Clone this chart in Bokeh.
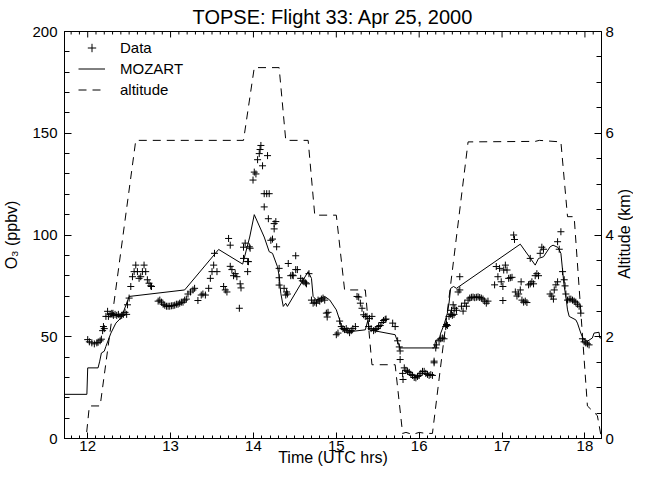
import numpy as np
from bokeh.plotting import figure
from bokeh.layouts import row
from bokeh.models import Range1d, LinearAxis, Legend, LegendItem, FixedTicker, Div
from bokeh.embed import file_html
from bokeh.resources import INLINE

# ---- data ----
data_t = [12.00, 12.02, 12.05, 12.08, 12.11, 12.125, 12.15, 12.165, 12.18, 12.19, 12.20,
          12.22, 12.24, 12.25, 12.27, 12.29, 12.31, 12.33, 12.35, 12.37, 12.39, 12.41, 12.43,
          12.45, 12.47, 12.48, 12.50, 12.52, 12.54, 12.56, 12.58, 12.60, 12.62, 12.64, 12.66,
          12.68, 12.70, 12.72, 12.74, 12.76, 12.77, 12.85, 12.87, 12.89, 12.91, 12.93, 12.95,
          12.97, 12.99, 13.01, 13.03, 13.05, 13.07, 13.09, 13.11, 13.13, 13.15, 13.17, 13.19,
          13.21, 13.24, 13.27, 13.29, 13.33, 13.37, 13.39, 13.42, 13.46, 13.48, 13.50, 13.52,
          13.53, 13.56, 13.64, 13.66, 13.68, 13.70, 13.72, 13.72, 13.74, 13.76, 13.78, 13.80,
          13.83, 13.84, 13.85, 13.88, 13.88, 13.90, 13.93, 13.93, 13.95, 13.96, 13.94, 13.995,
          14.01, 14.03, 14.05, 14.07, 14.09, 14.08, 14.11, 14.17, 14.13, 14.16, 14.19, 14.13,
          14.18, 14.21, 14.23, 14.25, 14.25, 14.27, 14.28, 14.31, 14.31, 14.31, 14.37, 14.39,
          14.40, 14.41, 14.42, 14.45, 14.47, 14.48, 14.51, 14.53, 14.51, 14.57, 14.59, 14.61,
          14.63, 14.64, 14.67, 14.70, 14.72, 14.74, 14.76, 14.78, 14.80, 14.82, 14.84, 14.86,
          14.88, 14.90, 14.89, 15.00, 15.02, 15.04, 15.06, 15.08, 15.10, 15.12, 15.14, 15.16,
          15.18, 15.20, 15.23, 15.25, 15.27, 15.29, 15.31, 15.33, 15.35, 15.37, 15.40, 15.43,
          15.39, 15.42, 15.45, 15.47, 15.49, 15.51, 15.53, 15.55, 15.57, 15.59, 15.60, 15.68,
          15.71, 15.74, 15.76, 15.77, 15.77, 15.80, 15.805, 15.82, 15.84, 15.86, 15.88, 15.90,
          15.92, 15.94, 15.96, 15.98, 16.00, 16.02, 16.04, 16.06, 16.08, 16.10, 16.12, 16.14,
          16.16, 16.18, 16.18, 16.20, 16.21, 16.24, 16.26, 16.28, 16.30, 16.32, 16.33, 16.34,
          16.36, 16.38, 16.40, 16.42, 16.39, 16.41, 16.43, 16.45, 16.47, 16.49, 16.49, 16.51,
          16.53, 16.55, 16.57, 16.59, 16.61, 16.63, 16.65, 16.67, 16.69, 16.71, 16.73, 16.75,
          16.77, 16.79, 16.81, 16.83, 16.91, 16.93, 16.95, 16.97, 16.99, 17.01, 17.01, 17.02,
          17.04, 17.06, 17.08, 17.10, 17.12, 17.14, 17.15, 17.16, 17.18, 17.20, 17.22, 17.23,
          17.24, 17.26, 17.28, 17.30, 17.32, 17.34, 17.36, 17.38, 17.34, 17.40, 17.42, 17.44,
          17.46, 17.48, 17.50, 17.58, 17.60, 17.62, 17.63, 17.65, 17.67, 17.67, 17.69, 17.71,
          17.73, 17.75, 17.76, 17.77, 17.79, 17.81, 17.83, 17.85, 17.87, 17.89, 17.91, 17.93,
          17.95, 17.97, 17.99, 18.01, 18.03, 18.05]
data_o3 = [48.6, 47.5, 47.0, 46.5, 47.0, 47.3, 48.0, 48.8, 53.0, 55.0, 54.0,
           60.0, 62.5, 60.0, 61.0, 61.5, 60.5, 61.0, 60.5, 61.0, 60.0, 60.5, 61.0,
           62.0, 61.0, 65.7, 69.0, 74.7, 79.5, 82.0, 85.2, 82.0, 78.7, 79.5, 82.0,
           85.2, 82.0, 78.0, 76.3, 75.0, 74.7, 67.5, 68.0, 67.0, 66.0, 65.5, 65.0,
           65.0, 65.0, 65.2, 65.3, 65.5, 66.0, 66.0, 66.5, 67.0, 67.0, 68.0, 68.5,
           71.0, 72.0, 73.0, 73.8, 67.8, 70.5, 71.0, 70.5, 73.8, 78.7, 82.0, 85.2,
           91.0, 82.0, 74.7, 73.0, 72.0, 98.3, 95.0, 84.6, 83.0, 80.0, 81.0, 79.5,
           64.0, 76.0, 74.0, 94.0, 88.5, 96.0, 82.0, 87.0, 94.2, 93.5, 86.9, 127.0,
           130.9, 130.0, 137.0, 140.0, 144.0, 142.0, 134.0, 139.0, 120.3, 120.3, 120.3, 113.8,
           108.0, 97.4, 98.0, 103.0, 105.6, 106.6, 94.2, 83.6, 79.0, 75.4, 73.8, 70.5,
           72.0, 71.0, 86.0, 80.0, 80.3, 80.0, 83.0, 83.0, 89.8, 78.7, 77.5, 77.0,
           76.5, 76.0, 81.0, 68.0, 66.5, 67.0, 66.5, 68.0, 67.5, 68.5, 69.0, 68.0,
           61.6, 62.0, 59.7, 51.0, 51.8, 57.7, 55.0, 54.0, 53.5, 54.0, 53.0, 52.0,
           53.0, 54.0, 55.0, 69.8, 69.5, 66.5, 64.0, 60.8, 60.0, 60.0, 59.0, 60.0,
           55.0, 54.0, 53.0, 53.5, 54.0, 55.0, 55.5, 57.0, 58.0, 58.5, 58.7, 56.7,
           55.0, 48.0, 45.0, 43.0, 38.8, 32.0, 29.0, 34.7, 33.5, 33.0, 32.5, 31.5,
           31.0, 30.0, 29.8, 30.5, 31.0, 32.0, 33.0, 33.0, 32.0, 31.5, 31.0, 31.4,
           31.0, 37.2, 38.0, 44.5, 46.0, 48.0, 49.0, 49.4, 49.0, 55.0, 56.0, 55.5,
           60.0, 61.0, 60.5, 61.0, 63.0, 65.7, 64.0, 63.0, 72.0, 73.0, 79.5, 65.0,
           62.6, 66.5, 65.0, 68.0, 69.0, 69.4, 69.5, 69.2, 69.4, 69.6, 69.3, 69.0,
           68.5, 67.5, 66.5, 67.5, 75.5, 84.5, 79.5, 83.6, 77.0, 74.7, 67.8, 82.8,
           85.2, 82.8, 78.7, 79.0, 79.2, 100.0, 97.8, 72.0, 70.0, 71.0, 73.0, 77.0,
           68.0, 67.0, 67.5, 66.8, 75.5, 76.0, 77.0, 76.0, 88.5, 80.0, 81.0, 80.0,
           91.0, 94.0, 93.0, 71.0, 70.0, 68.5, 73.0, 75.5, 77.0, 96.7, 93.0, 101.6,
           82.0, 78.0, 75.0, 71.0, 68.0, 68.5, 68.5, 68.0, 67.5, 67.0, 66.0, 65.0,
           61.6, 49.0, 47.5, 47.0, 46.5, 46.0]

moz_t = [11.72, 11.99, 12.00, 12.125, 12.145, 12.165, 12.20, 12.22, 12.28, 12.34, 12.40,
         12.44, 12.50, 13.17, 13.58, 13.87, 13.955, 14.01, 14.13, 14.19, 14.23, 14.29, 14.31,
         14.33, 14.36, 14.39, 14.41, 14.66, 14.70, 14.72, 14.76, 14.86, 14.92, 15.00, 15.04,
         15.06, 15.10, 15.35, 15.38, 15.40, 15.71, 15.73, 15.77, 16.18, 16.20, 16.24, 16.26,
         16.30, 16.34, 16.36, 16.38, 16.415, 16.45, 17.22, 17.40, 17.44, 17.50, 17.58, 17.615,
         17.675, 17.71, 17.73, 17.75, 17.77, 17.79, 17.81, 17.89, 17.91, 17.95, 17.98, 18.03,
         18.09, 18.11, 18.17, 18.18, 18.20]
moz_o3 = [21.7, 21.7, 34.7, 34.7, 38.0, 42.0, 42.9, 45.3, 51.8, 56.7, 59.2,
          63.2, 69.8, 73.0, 92.9, 85.7, 99.0, 110.0, 99.0, 91.8, 91.0, 84.4, 80.0,
          71.4, 64.9, 66.5, 64.9, 82.0, 78.7, 69.8, 68.1, 69.8, 68.1, 63.2, 58.3,
          55.1, 52.2, 53.4, 58.0, 53.4, 51.0, 48.6, 44.5, 44.5, 48.3, 48.6, 51.8,
          55.9, 61.6, 66.5, 73.8, 74.7, 73.8, 95.5, 85.2, 88.5, 89.3, 94.2, 95.0,
          93.9, 91.0, 82.8, 74.7, 69.8, 63.2, 60.0, 58.3, 56.7, 51.8, 48.9, 47.8,
          49.4, 51.8, 52.2, 49.4, 49.4]

alt_t = [11.72, 11.98, 12.02, 12.15, 12.58, 13.88, 14.01, 14.31, 14.39, 14.66, 14.74,
         15.00, 15.10, 15.35, 15.43, 15.71, 15.80, 15.84, 15.92, 16.00, 16.08, 16.16,
         16.59, 17.40, 17.45, 17.71, 17.79, 17.87, 18.03, 18.15, 18.20]
alt_km = [0.0, 0.0, 0.64, 0.64, 5.86, 5.86, 7.29, 7.29, 5.86, 5.86, 4.39,
          4.39, 2.92, 2.92, 1.45, 1.45, 0.10, 0.12, 0.08, 0.12, 0.10, 0.10,
          5.83, 5.84, 5.86, 5.83, 4.36, 4.36, 0.64, 0.45, 0.0]

x_major = [12, 13, 14, 15, 16, 17, 18]
y_major = [0, 50, 100, 150, 200]
alt_major = [0, 2, 4, 6, 8]

FONT = "Liberation Sans"
X0, X1, Y0, Y1 = 11.72, 18.2, 0, 200
A0, A1 = 0, 8
FIG_W, FIG_H = 616, 471
B_LEFT, B_RIGHT, B_TOP, B_BOTTOM = 61, 14, 29, 33
FRAME_H = FIG_H - B_TOP - B_BOTTOM
LABEL_W = 17

p = figure(width=FIG_W, height=FIG_H, x_range=Range1d(X0, X1), y_range=Range1d(Y0, Y1),
           output_backend="svg", toolbar_location=None,
           title="TOPSE: Flight 33: Apr 25, 2000",
           min_border_left=B_LEFT, min_border_right=B_RIGHT,
           min_border_top=B_TOP, min_border_bottom=B_BOTTOM)
p.extra_y_ranges = {"alt": Range1d(A0, A1)}

p.xgrid.visible = False
p.ygrid.visible = False
p.outline_line_color = "black"
p.outline_line_width = 1
p.background_fill_color = "white"
p.border_fill_color = "white"

p.title.text_font = FONT
p.title.text_font_size = "20px"
p.title.text_font_style = "normal"
p.title.align = "center"
p.title.text_color = "black"
p.title.standoff = 7


def style_axis(ax, major_in, minor_in, label_size="16px"):
    ax.axis_line_color = "black"
    ax.major_tick_line_color = "black"
    ax.minor_tick_line_color = "black"
    ax.major_tick_in = major_in
    ax.major_tick_out = 0
    ax.minor_tick_in = minor_in
    ax.minor_tick_out = 0
    ax.major_label_text_font = FONT
    ax.major_label_text_font_size = "15px"
    ax.major_label_text_color = "black"
    ax.axis_label_text_font = FONT
    ax.axis_label_text_font_size = label_size
    ax.axis_label_text_font_style = "normal"
    ax.axis_label_text_color = "black"


x_minor = [round(v, 2) for v in np.arange(11.8, 18.21, 0.1)]
y_minor = list(range(0, 201, 10))
alt_minor = [v * 0.5 for v in range(0, 17)]

xa = p.xaxis[0]
xa.ticker = FixedTicker(ticks=x_major, minor_ticks=x_minor)
xa.axis_label = "Time (UTC hrs)"
style_axis(xa, 6, 3)
xa.major_label_standoff = 2
xa.axis_label_standoff = -5

ya = p.yaxis[0]
ya.ticker = FixedTicker(ticks=y_major, minor_ticks=y_minor)
ya.axis_label = "O\u2083 (ppbv)"
style_axis(ya, 7, 5)
ya.major_label_standoff = 7
ya.axis_label_standoff = 9

ra = LinearAxis(y_range_name="alt",
                ticker=FixedTicker(ticks=alt_major, minor_ticks=alt_minor))
style_axis(ra, 7, 5)
ra.major_label_standoff = 4
p.add_layout(ra, "right")

# tick marks along the top edge (inward), from the same tick lists
px_to_data = (Y1 - Y0) / FRAME_H
top_minor = [t for t in x_minor if t not in x_major]
p.segment(x0=x_major, y0=[Y1] * len(x_major), x1=x_major,
          y1=[Y1 - 6 * px_to_data] * len(x_major), line_color="black", line_width=1)
p.segment(x0=top_minor, y0=[Y1] * len(top_minor), x1=top_minor,
          y1=[Y1 - 3 * px_to_data] * len(top_minor), line_color="black", line_width=1)

r_alt = p.line(alt_t, alt_km, y_range_name="alt", line_color="black", line_width=1,
               line_dash="8 6")
r_moz = p.line(moz_t, moz_o3, line_color="black", line_width=1)
r_data = p.scatter(data_t, data_o3, marker="cross", size=7, line_color="black",
                   line_width=1)

legend = Legend(items=[LegendItem(label="Data", renderers=[r_data]),
                       LegendItem(label="MOZART", renderers=[r_moz]),
                       LegendItem(label="altitude", renderers=[r_alt])],
                location=(14, FRAME_H - 71))
legend.margin = 0
legend.padding = 0
legend.spacing = 0
legend.border_line_color = None
legend.background_fill_alpha = 0
legend.glyph_width = 27
legend.glyph_height = 21
legend.label_height = 21
legend.label_standoff = 15
legend.label_text_font = FONT
legend.label_text_font_size = "15px"
legend.label_text_color = "black"
p.add_layout(legend)

# right-hand axis title, reading bottom-to-top like the left one
alt_title = Div(
    text=('<div style="width:%dpx;height:%dpx;margin-top:%dpx;display:flex;'
          'align-items:center;justify-content:center;">'
          '<span style="writing-mode:vertical-rl;transform:rotate(180deg);'
          "font-family:'Liberation Sans';font-size:16px;line-height:%dpx;"
          'color:#000;white-space:nowrap;">Altitude (km)</span></div>')
         % (LABEL_W, FRAME_H, B_TOP, LABEL_W),
    width=LABEL_W, height=FIG_H, margin=0)

layout = row(p, alt_title, spacing=0)

open("out.html", "w").write(file_html(layout, INLINE))
